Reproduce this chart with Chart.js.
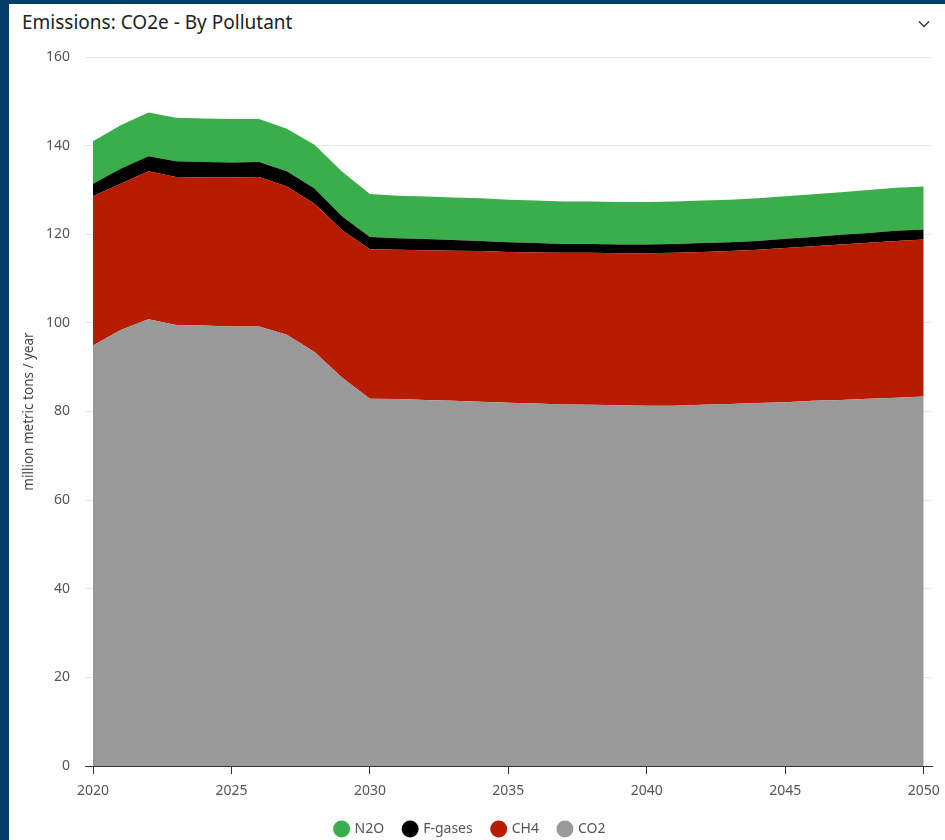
<!DOCTYPE html>
<html>
<head>
<meta charset="utf-8">
<script src="https://cdn.jsdelivr.net/npm/chart.js@4.4.1/dist/chart.umd.min.js"></script>
<style>
	html, body { margin: 0; padding: 0; }
	body { width: 945px; height: 840px; background: #023d68; position: relative; overflow: hidden; font-family: 'Noto Sans', sans-serif; }
	.panel { position: absolute; left: 9px; top: 4px; width: 936px; height: 836px; background: #fff; overflow: hidden; }
	.panel-title { position: absolute; left: 13px; top: 5px; font-size: 19px; color: #222; }
	.panel-toggle { position: absolute; right: 14px; top: 13px; width: 14px; height: 14px; }
	.chart-wrap { position: absolute; left: 0; top: 36px; width: 936px; height: 806px; }
</style>
</head>
<body>
<div class="panel">
	<div class="panel-title">Emissions: CO2e - By Pollutant</div>
	<svg class="panel-toggle" viewBox="0 0 14 14" fill="none" stroke="#333" stroke-width="1.4"><polyline points="2,4.5 7,9.5 12,4.5"></polyline></svg>
	<div class="chart-wrap"><canvas id="chart"></canvas></div>
</div>
<script>
const years = [
	2020, 2021, 2022, 2023, 2024, 2025, 2026, 2027, 2028, 2029,
	2030, 2031, 2032, 2033, 2034, 2035, 2036, 2037, 2038, 2039,
	2040, 2041, 2042, 2043, 2044, 2045, 2046, 2047, 2048, 2049, 2050,
];

const co2 = [
	94.9, 98.4, 100.8, 99.5, 99.4, 99.2, 99.2, 97.3, 93.4, 87.6,
	82.9, 82.8, 82.6, 82.4, 82.2, 82.0, 81.8, 81.6, 81.5, 81.4,
	81.3, 81.3, 81.5, 81.7, 81.9, 82.1, 82.4, 82.6, 82.9, 83.1, 83.4,
];

const ch4 = [
	33.7, 33.0, 33.4, 33.4, 33.4, 33.6, 33.7, 33.5, 33.5, 33.3,
	33.7, 33.7, 33.8, 33.9, 34.0, 34.0, 34.1, 34.2, 34.3, 34.3,
	34.4, 34.5, 34.5, 34.5, 34.6, 34.8, 34.9, 35.1, 35.2, 35.4, 35.4,
];

const fGases = [
	2.8, 3.4, 3.4, 3.6, 3.5, 3.4, 3.4, 3.4, 3.4, 3.1,
	2.8, 2.6, 2.5, 2.4, 2.3, 2.2, 2.1, 2.0, 2.0, 2.0,
	2.0, 2.0, 2.0, 2.0, 2.0, 2.1, 2.1, 2.2, 2.2, 2.3, 2.3,
];

const n2o = [
	9.6, 9.8, 9.9, 9.8, 9.8, 9.8, 9.7, 9.6, 9.9, 10.1,
	9.7, 9.6, 9.6, 9.6, 9.6, 9.6, 9.6, 9.6, 9.6, 9.6,
	9.6, 9.6, 9.6, 9.6, 9.6, 9.6, 9.6, 9.6, 9.7, 9.7, 9.7,
];

const yTicks = [0, 20, 40, 60, 80, 100, 120, 140, 160];
const xTicks = [2020, 2025, 2030, 2035, 2040, 2045, 2050];

const toPoints = (values) => values.map((value, index) => ({ x: years[index], y: value }));

const series = [
	{ label: 'CO2', data: co2, color: '#999999' },
	{ label: 'CH4', data: ch4, color: '#b81c00' },
	{ label: 'F-gases', data: fGases, color: '#000000' },
	{ label: 'N2O', data: n2o, color: '#39ae4b' },
];

const tickFont = { family: "'Noto Sans', sans-serif", size: 14 };

new Chart(document.getElementById('chart'), {
	type: 'line',
	data: {
		datasets: series.map((item, index) => ({
			label: item.label,
			data: toPoints(item.data),
			backgroundColor: item.color,
			borderColor: item.color,
			borderWidth: 0,
			pointRadius: 0,
			pointHoverRadius: 0,
			tension: 0,
			fill: index === 0 ? 'origin' : '-1',
		})),
	},
	options: {
		responsive: true,
		maintainAspectRatio: false,
		animation: false,
		layout: { padding: { top: 17, right: 13, left: 0, bottom: 0 } },
		plugins: {
			legend: {
				position: 'bottom',
				reverse: true,
				labels: {
					usePointStyle: true,
					pointStyle: 'circle',
					boxWidth: 12,
					boxHeight: 12,
					padding: 20,
					color: '#555',
					font: tickFont,
				},
			},
			tooltip: { enabled: false },
		},
		scales: {
			x: {
				type: 'linear',
				min: 2020,
				max: 2050.3,
				afterBuildTicks: (axis) => {
					axis.ticks = xTicks.map((value) => ({ value }));
				},
				afterFit: (axis) => {
					axis.height = 36;
					axis.paddingLeft = 0;
					axis.paddingRight = 0;
				},
				border: { display: true, color: '#333', width: 1 },
				grid: { drawOnChartArea: false, drawTicks: true, tickLength: 8, color: '#333' },
				ticks: { color: '#555', font: tickFont, padding: 9, maxRotation: 0, callback: (value) => String(value) },
			},
			y: {
				stacked: true,
				min: 0,
				max: 160,
				afterBuildTicks: (axis) => {
					axis.ticks = yTicks.map((value) => ({ value }));
				},
				afterFit: (axis) => {
					axis.width = 84;
					axis.paddingTop = 0;
					axis.paddingBottom = 0;
				},
				border: { display: false },
				grid: {
					color: (ctx) => (ctx.tick && ctx.tick.value === 0 ? '#333' : '#e6e6e6'),
					tickLength: 8,
				},
				ticks: { color: '#555', font: tickFont, padding: 15 },
				title: {
					display: true,
					text: 'million metric tons / year',
					color: '#444',
					font: { family: "'Noto Sans', sans-serif", size: 13.5 },
					padding: { top: 12, bottom: 0 },
				},
			},
		},
	},
});
</script>
</body>
</html>
